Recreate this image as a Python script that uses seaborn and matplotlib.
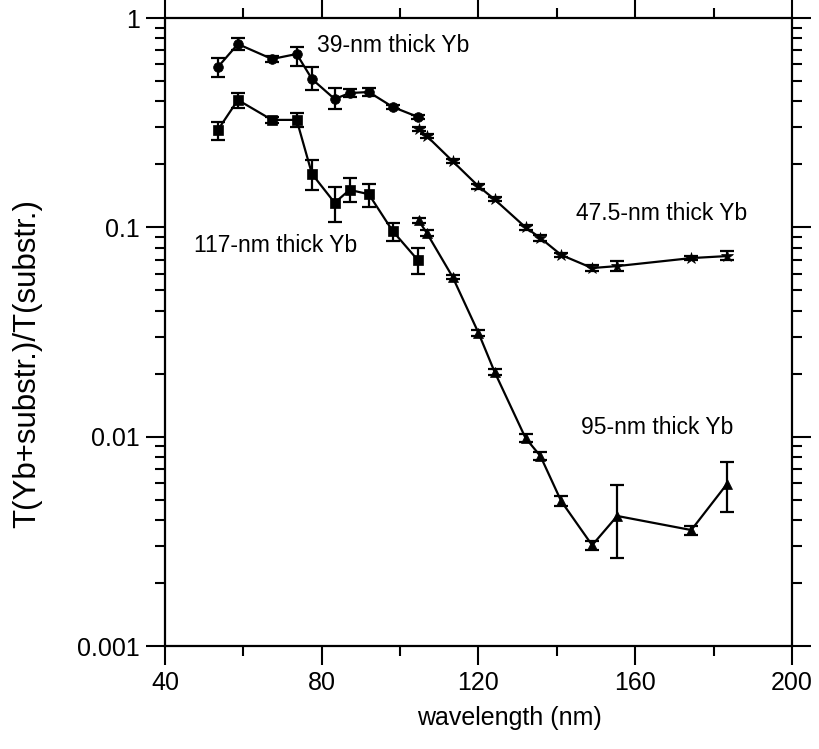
import numpy as np
import pandas as pd
import matplotlib
matplotlib.use('Agg')
import matplotlib.pyplot as plt
import seaborn as sns
from matplotlib.ticker import LogLocator, NullFormatter, MultipleLocator

# 39-nm thick Yb (circles)
wl_39 = [53.5, 58.6, 67.3, 73.6, 77.5, 83.3, 87.1, 92.0, 98.1, 104.5]
t_39 = [0.583, 0.751, 0.637, 0.673, 0.511, 0.410, 0.438, 0.443, 0.376, 0.337]
lo_39 = [0.523, 0.700, 0.615, 0.590, 0.453, 0.367, 0.420, 0.425, 0.366, 0.330]
hi_39 = [0.644, 0.800, 0.660, 0.727, 0.583, 0.463, 0.457, 0.462, 0.386, 0.344]

# 47.5-nm thick Yb (stars)
wl_47 = [104.7, 106.8, 113.4, 120.0, 124.1, 132.0, 135.8, 141.1, 149.0, 155.4, 174.3, 183.4]
t_47 = [0.295, 0.273, 0.207, 0.157, 0.136, 0.100, 0.0889, 0.0738, 0.0639, 0.0653, 0.0713, 0.0729]
lo_47 = [0.288, 0.266, 0.202, 0.153, 0.133, 0.097, 0.0865, 0.0720, 0.0620, 0.0620, 0.0700, 0.0700]
hi_47 = [0.302, 0.280, 0.212, 0.161, 0.139, 0.103, 0.0915, 0.0756, 0.0658, 0.0690, 0.0726, 0.0770]

# 95-nm thick Yb (triangles)
wl_95 = [104.7, 106.8, 113.4, 120.0, 124.1, 132.0, 135.8, 141.1, 149.0, 155.4, 174.3, 183.4]
t_95 = [0.108, 0.094, 0.0579, 0.0313, 0.0204, 0.00985, 0.00808, 0.00492, 0.00303, 0.00418, 0.00358, 0.00594]
lo_95 = [0.105, 0.091, 0.0565, 0.0302, 0.0197, 0.00940, 0.00775, 0.00465, 0.00288, 0.00263, 0.00340, 0.00437]
hi_95 = [0.111, 0.097, 0.0593, 0.0324, 0.0211, 0.01030, 0.00841, 0.00519, 0.00318, 0.00589, 0.00376, 0.00757]

# 117-nm thick Yb (squares)
wl_117 = [53.5, 58.6, 67.3, 73.6, 77.5, 83.3, 87.1, 92.0, 98.1, 104.5]
t_117 = [0.292, 0.406, 0.326, 0.326, 0.180, 0.131, 0.151, 0.144, 0.096, 0.0698]
lo_117 = [0.262, 0.371, 0.315, 0.302, 0.151, 0.106, 0.132, 0.125, 0.086, 0.060]
hi_117 = [0.318, 0.438, 0.337, 0.351, 0.210, 0.156, 0.172, 0.161, 0.105, 0.080]

series = [
    ("39-nm thick Yb", wl_39, t_39, lo_39, hi_39, "o", 7),
    ("47.5-nm thick Yb", wl_47, t_47, lo_47, hi_47, "*", 9),
    ("95-nm thick Yb", wl_95, t_95, lo_95, hi_95, "^", 7),
    ("117-nm thick Yb", wl_117, t_117, lo_117, hi_117, "s", 7),
]

labels = [
    ("39-nm thick Yb", 78.8, 0.74),
    ("47.5-nm thick Yb", 144.8, 0.116),
    ("117-nm thick Yb", 47.5, 0.082),
    ("95-nm thick Yb", 146.2, 0.0111),
]

sns.set_style("ticks", {"axes.edgecolor": "black", "text.color": "black",
                        "axes.labelcolor": "black", "xtick.color": "black",
                        "ytick.color": "black"})
plt.rcParams['font.family'] = ['Liberation Sans', 'DejaVu Sans']

fig = plt.figure(figsize=(8.19, 7.49), dpi=100)
ax = fig.add_axes([165 / 819, 1 - 646 / 749, (792 - 165) / 819, (646 - 18) / 749])

for name, wl, t, lo, hi, mk, ms in series:
    df = pd.DataFrame({"wl": wl, "t": t})
    sns.lineplot(data=df, x="wl", y="t", ax=ax, color="black", lw=1.6,
                 marker=mk, markersize=ms, markeredgecolor="black",
                 markeredgewidth=0.5, sort=False)
    t = np.array(t)
    yerr = np.vstack([t - np.array(lo), np.array(hi) - t])
    ax.errorbar(wl, t, yerr=yerr, fmt="none", ecolor="black",
                elinewidth=1.6, capsize=5, capthick=1.6)

for txt, x, y in labels:
    ax.text(x, y, txt, fontsize=16.5, ha="left", va="center", color="black")

ax.set_yscale("log")
ax.set_xlim(40, 200)
ax.set_ylim(0.001, 1)
ax.xaxis.set_major_locator(MultipleLocator(40))
ax.xaxis.set_minor_locator(MultipleLocator(20))
ax.yaxis.set_minor_locator(LogLocator(base=10, subs=np.arange(2, 10), numticks=20))
ax.yaxis.set_minor_formatter(NullFormatter())
ax.set_yticks([0.001, 0.01, 0.1, 1])
ax.set_yticklabels(["0.001", "0.01", "0.1", "1"])

for s in ax.spines.values():
    s.set_linewidth(1.6)
    s.set_color("black")
    s.set_visible(True)

# ticks point outward on all four sides
ax.tick_params(which="major", length=14, width=1.5, labelsize=18, direction="out",
               pad=4, top=True, right=True, colors="black")
ax.tick_params(which="minor", length=7, width=1.5, direction="out",
               top=True, right=True, colors="black")

ax.set_xlabel("wavelength (nm)", fontsize=18, color="black")
ax.set_ylabel("T(Yb+substr.)/T(substr.)", fontsize=22.5, color="black")
ax.xaxis.set_label_coords(0.549, -0.096)
ax.yaxis.set_label_coords(-0.196, 0.45)
ax.grid(False)

fig.savefig("out.png", dpi=100)
